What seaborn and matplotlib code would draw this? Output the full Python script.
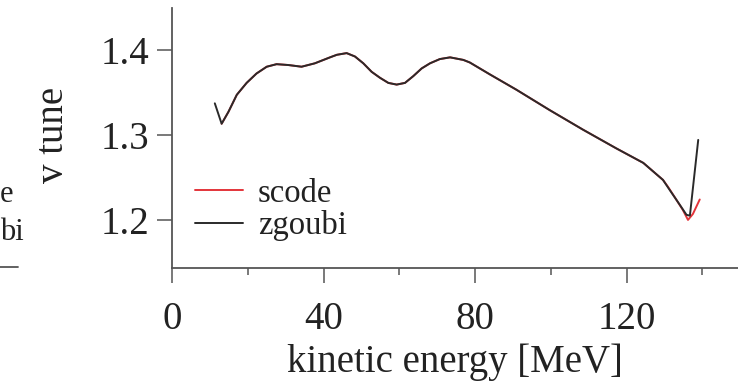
import numpy as np
import pandas as pd
import matplotlib
matplotlib.use("Agg")
import matplotlib.pyplot as plt
from matplotlib.lines import Line2D
from matplotlib.ticker import MultipleLocator
import seaborn as sns

# ---- data ----
zgoubi_energy = [11.3, 13.1, 14.9, 17.1, 19.7, 22.3, 25.0, 27.6, 30.7, 34.2, 37.7,
                 41.7, 43.5, 46.1, 48.3, 50.5, 52.7, 54.9, 57.1, 59.3, 61.5, 63.7,
                 65.9, 68.1, 70.7, 73.4, 76.9, 78.6, 83.9, 90.9, 99.7, 108.5, 117.3,
                 124.4, 129.6, 131.4, 134.0, 135.8, 136.7, 138.9]
zgoubi_tune = [1.337, 1.313, 1.327, 1.347, 1.361, 1.372, 1.380, 1.383, 1.382, 1.380, 1.384,
               1.391, 1.394, 1.396, 1.392, 1.384, 1.374, 1.367, 1.361, 1.359, 1.361, 1.369,
               1.378, 1.384, 1.389, 1.391, 1.388, 1.385, 1.371, 1.353, 1.329, 1.306, 1.284,
               1.267, 1.247, 1.235, 1.218, 1.206, 1.205, 1.294]

scode_energy = [13.1, 14.9, 17.1, 19.7, 22.3, 25.0, 27.6, 30.7, 34.2, 37.7,
                41.7, 43.5, 46.1, 48.3, 50.5, 52.7, 54.9, 57.1, 59.3, 61.5, 63.7,
                65.9, 68.1, 70.7, 73.4, 76.9, 78.6, 83.9, 90.9, 99.7, 108.5, 117.3,
                124.4, 129.6, 130.9, 132.8, 134.8, 136.2, 137.5, 139.3]
scode_tune = [1.313, 1.327, 1.347, 1.361, 1.372, 1.380, 1.383, 1.382, 1.380, 1.384,
              1.391, 1.394, 1.396, 1.392, 1.384, 1.374, 1.367, 1.361, 1.359, 1.361, 1.369,
              1.378, 1.384, 1.389, 1.391, 1.388, 1.385, 1.371, 1.353, 1.329, 1.306, 1.284,
              1.267, 1.247, 1.239, 1.226, 1.212, 1.200, 1.207, 1.224]

codes = ["scode", "zgoubi"]
x_ticks = [0, 40, 80, 120]
y_ticks = [1.2, 1.3, 1.4]

df = pd.concat([
    pd.DataFrame({"energy": scode_energy, "tune": scode_tune, "code": codes[0]}),
    pd.DataFrame({"energy": zgoubi_energy, "tune": zgoubi_tune, "code": codes[1]}),
], ignore_index=True)

# ---- style ----
sns.set_style("ticks")
plt.rcParams["font.family"] = ["Liberation Serif", "DejaVu Serif"]

W, H = 738, 385
fig = plt.figure(figsize=(W / 100, H / 100), dpi=100)
ax_l, ax_r, ax_b, ax_t = 172, 738, 268, 8
ax = fig.add_axes([ax_l / W, 1 - ax_b / H, (ax_r - ax_l) / W, (ax_b - ax_t) / H])

palette = {"scode": "#e3343a", "zgoubi": "#2a2a2a"}
sns.lineplot(data=df, x="energy", y="tune", hue="code", hue_order=codes,
             palette=palette, estimator=None, sort=False, linewidth=1.4, ax=ax,
             legend=False)
for ln in ax.get_lines():
    ln.set_solid_joinstyle("round")
    ln.set_solid_capstyle("round")

ax.set_xlim(0, 149.4)
ax.set_ylim(1.1435, 1.449)
ax.set_xticks(x_ticks)
ax.set_yticks(y_ticks)
ax.xaxis.set_minor_locator(MultipleLocator(20))
ax.set_xticklabels([str(v) for v in x_ticks])
ax.set_yticklabels([f"{v:.1f}" for v in y_ticks])

spine_col = "#555555"
text_col = "#222222"
for s in ["top", "right"]:
    ax.spines[s].set_visible(False)
for s in ["left", "bottom"]:
    ax.spines[s].set_color(spine_col)
    ax.spines[s].set_linewidth(1.3)

ax.tick_params(axis="both", which="major", direction="out", length=10.5, width=1.1,
               color=spine_col, labelsize=28, labelcolor=text_col)
ax.tick_params(axis="x", which="major", pad=13)
ax.tick_params(axis="y", which="major", pad=6)
ax.tick_params(axis="x", which="minor", direction="out", length=5, width=1.1,
               color=spine_col)
ax.grid(False)

ax.set_xlabel("kinetic energy [MeV]", fontsize=28, color=text_col)
ax.set_ylabel("v tune", fontsize=28, color=text_col)
ax.xaxis.set_label_coords(0.5, -0.29)
ax.yaxis.set_label_coords(-0.176, 0.51)

handles = [Line2D([], [], color=palette[c], lw=1.4) for c in codes]
leg = ax.legend(handles, codes, loc="upper left",
                bbox_to_anchor=((195 - ax_l) / (ax_r - ax_l), (ax_b - 178) / (ax_b - ax_t)),
                frameon=False, fontsize=23.5, handlelength=1.47, handletextpad=0.46,
                labelspacing=0.05, borderpad=0, borderaxespad=0)
for t in leg.get_texts():
    t.set_color(text_col)

# visible fragment of the neighbouring panel at the left edge
fig.text(0, 1 - 195 / H, "e", fontsize=22, va="center", ha="left", color=text_col)
fig.text(0, 1 - 233 / H, "bi", fontsize=22, va="center", ha="left", color=text_col)
fig.add_artist(Line2D([0, 18 / W], [1 - 267 / H, 1 - 267 / H], transform=fig.transFigure,
                      color=spine_col, lw=1.3))

fig.savefig("out.png", dpi=100)
